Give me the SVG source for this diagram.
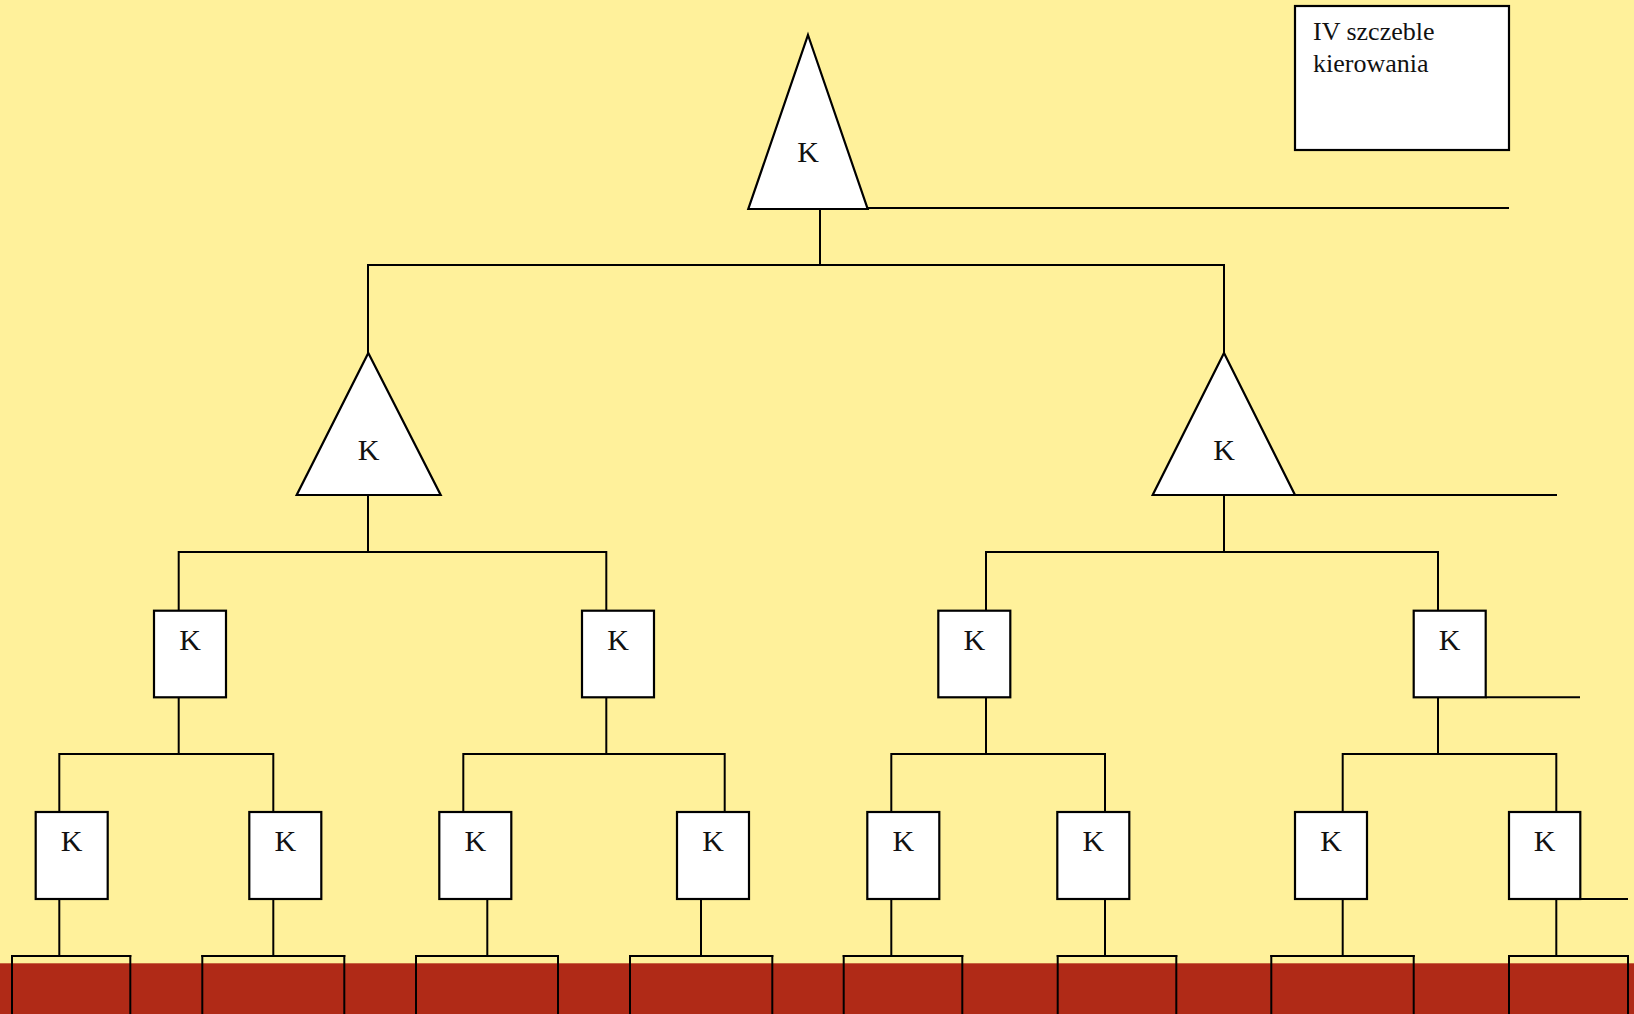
<svg xmlns="http://www.w3.org/2000/svg" width="1634" height="1014" viewBox="0 0 1634 1014">
<style>
.node{fill:#ffffff;stroke:#000000;stroke-width:2.2;}
.k{font-family:"Liberation Serif","Times New Roman",serif;font-size:30px;fill:#111111;text-anchor:middle;}
.legend{font-family:"Liberation Serif","Times New Roman",serif;font-size:26px;fill:#111111;}
.lines line{stroke:#000000;stroke-width:2;}
</style>
<rect x="0" y="0" width="1634" height="1014" fill="#FFF19B"/>
<rect x="0" y="963.3" width="1634" height="51" fill="#B02A17"/>

<g id="connectors" class="lines">
  <!-- top level -->
  <line x1="867" y1="208" x2="1509" y2="208"/>
  <line x1="820" y1="209" x2="820" y2="265"/>
  <line x1="367.5" y1="265" x2="1224" y2="265"/>
  <line x1="368" y1="264" x2="368" y2="353"/>
  <line x1="1224" y1="264" x2="1224" y2="353"/>
  <!-- level 2 -->
  <line x1="1295" y1="495" x2="1557" y2="495"/>
  <line x1="368" y1="495" x2="368" y2="552"/>
  <line x1="1224" y1="495" x2="1224" y2="552"/>
  <line x1="178.7" y1="552" x2="606.3" y2="552"/>
  <line x1="986" y1="552" x2="1438" y2="552"/>
  <line x1="178.7" y1="551" x2="178.7" y2="611"/>
  <line x1="606.3" y1="551" x2="606.3" y2="611"/>
  <line x1="986" y1="551" x2="986" y2="611"/>
  <line x1="1438" y1="551" x2="1438" y2="611"/>
  <!-- level 3 -->
  <line x1="1485.7" y1="697.3" x2="1580" y2="697.3"/>
  <line x1="178.7" y1="697" x2="178.7" y2="754"/>
  <line x1="606.3" y1="697" x2="606.3" y2="754"/>
  <line x1="986" y1="697" x2="986" y2="754"/>
  <line x1="1438" y1="697" x2="1438" y2="754"/>
  <line x1="59.3" y1="754" x2="273.3" y2="754"/>
  <line x1="463.3" y1="754" x2="724.7" y2="754"/>
  <line x1="891.3" y1="754" x2="1105" y2="754"/>
  <line x1="1342.7" y1="754" x2="1556.3" y2="754"/>
  <line x1="59.3" y1="753" x2="59.3" y2="812"/>
  <line x1="273.3" y1="753" x2="273.3" y2="812"/>
  <line x1="463.3" y1="753" x2="463.3" y2="812"/>
  <line x1="724.7" y1="753" x2="724.7" y2="812"/>
  <line x1="891.3" y1="753" x2="891.3" y2="812"/>
  <line x1="1105" y1="753" x2="1105" y2="812"/>
  <line x1="1342.7" y1="753" x2="1342.7" y2="812"/>
  <line x1="1556.3" y1="753" x2="1556.3" y2="812"/>
  <!-- level 4 -->
  <line x1="1580.3" y1="899" x2="1628" y2="899"/>
  <line x1="59.3" y1="899" x2="59.3" y2="956"/>
  <line x1="273.3" y1="899" x2="273.3" y2="956"/>
  <line x1="487.3" y1="899" x2="487.3" y2="956"/>
  <line x1="701" y1="899" x2="701" y2="956"/>
  <line x1="891.3" y1="899" x2="891.3" y2="956"/>
  <line x1="1105" y1="899" x2="1105" y2="956"/>
  <line x1="1342.7" y1="899" x2="1342.7" y2="956"/>
  <line x1="1556.3" y1="899" x2="1556.3" y2="956"/>
  <!-- bottom brackets -->
  <line x1="11" y1="956" x2="131.3" y2="956"/>
  <line x1="12" y1="955" x2="12" y2="1014"/>
  <line x1="130.3" y1="955" x2="130.3" y2="1014"/>
  <line x1="201.3" y1="956" x2="345.3" y2="956"/>
  <line x1="202.3" y1="955" x2="202.3" y2="1014"/>
  <line x1="344.3" y1="955" x2="344.3" y2="1014"/>
  <line x1="415" y1="956" x2="559" y2="956"/>
  <line x1="416" y1="955" x2="416" y2="1014"/>
  <line x1="558" y1="955" x2="558" y2="1014"/>
  <line x1="629" y1="956" x2="773.3" y2="956"/>
  <line x1="630" y1="955" x2="630" y2="1014"/>
  <line x1="772.3" y1="955" x2="772.3" y2="1014"/>
  <line x1="842.7" y1="956" x2="963.3" y2="956"/>
  <line x1="843.7" y1="955" x2="843.7" y2="1014"/>
  <line x1="962.3" y1="955" x2="962.3" y2="1014"/>
  <line x1="1056.7" y1="956" x2="1177.3" y2="956"/>
  <line x1="1057.7" y1="955" x2="1057.7" y2="1014"/>
  <line x1="1176.3" y1="955" x2="1176.3" y2="1014"/>
  <line x1="1270.3" y1="956" x2="1414.7" y2="956"/>
  <line x1="1271.3" y1="955" x2="1271.3" y2="1014"/>
  <line x1="1413.7" y1="955" x2="1413.7" y2="1014"/>
  <line x1="1508" y1="956" x2="1629" y2="956"/>
  <line x1="1509" y1="955" x2="1509" y2="1014"/>
  <line x1="1628" y1="955" x2="1628" y2="1014"/>
</g>

<g id="legend">
  <rect class="node" x="1295" y="6" width="214" height="144"/>
  <text class="legend" x="1313" y="40">IV szczeble</text>
  <text class="legend" x="1313" y="72">kierowania</text>
</g>

<g id="n-top">
  <polygon class="node" points="808,35 867.7,209 748.3,209"/>
  <text class="k" x="808" y="162">K</text>
</g>
<g id="n-l2a">
  <polygon class="node" points="368.3,353 440.7,495 296.7,495"/>
  <text class="k" x="368.5" y="460">K</text>
</g>
<g id="n-l2b">
  <polygon class="node" points="1224,353 1295,495 1152.7,495"/>
  <text class="k" x="1224" y="460">K</text>
</g>

<g id="n-l3a"><rect class="node" x="154" y="610.7" width="72" height="86.6"/><text class="k" x="190" y="650">K</text></g>
<g id="n-l3b"><rect class="node" x="582" y="610.7" width="72" height="86.6"/><text class="k" x="618" y="650">K</text></g>
<g id="n-l3c"><rect class="node" x="938.3" y="610.7" width="72" height="86.6"/><text class="k" x="974.3" y="650">K</text></g>
<g id="n-l3d"><rect class="node" x="1413.7" y="610.7" width="72" height="86.6"/><text class="k" x="1449.7" y="650">K</text></g>

<g id="n-l4a"><rect class="node" x="35.7" y="812" width="72" height="87"/><text class="k" x="71.7" y="851">K</text></g>
<g id="n-l4b"><rect class="node" x="249.3" y="812" width="72" height="87"/><text class="k" x="285.3" y="851">K</text></g>
<g id="n-l4c"><rect class="node" x="439.3" y="812" width="72" height="87"/><text class="k" x="475.3" y="851">K</text></g>
<g id="n-l4d"><rect class="node" x="677" y="812" width="72" height="87"/><text class="k" x="713" y="851">K</text></g>
<g id="n-l4e"><rect class="node" x="867.3" y="812" width="72" height="87"/><text class="k" x="903.3" y="851">K</text></g>
<g id="n-l4f"><rect class="node" x="1057.3" y="812" width="72" height="87"/><text class="k" x="1093.3" y="851">K</text></g>
<g id="n-l4g"><rect class="node" x="1295" y="812" width="72" height="87"/><text class="k" x="1331" y="851">K</text></g>
<g id="n-l4h"><rect class="node" x="1509" y="812" width="71.3" height="87"/><text class="k" x="1544.7" y="851">K</text></g>
</svg>
